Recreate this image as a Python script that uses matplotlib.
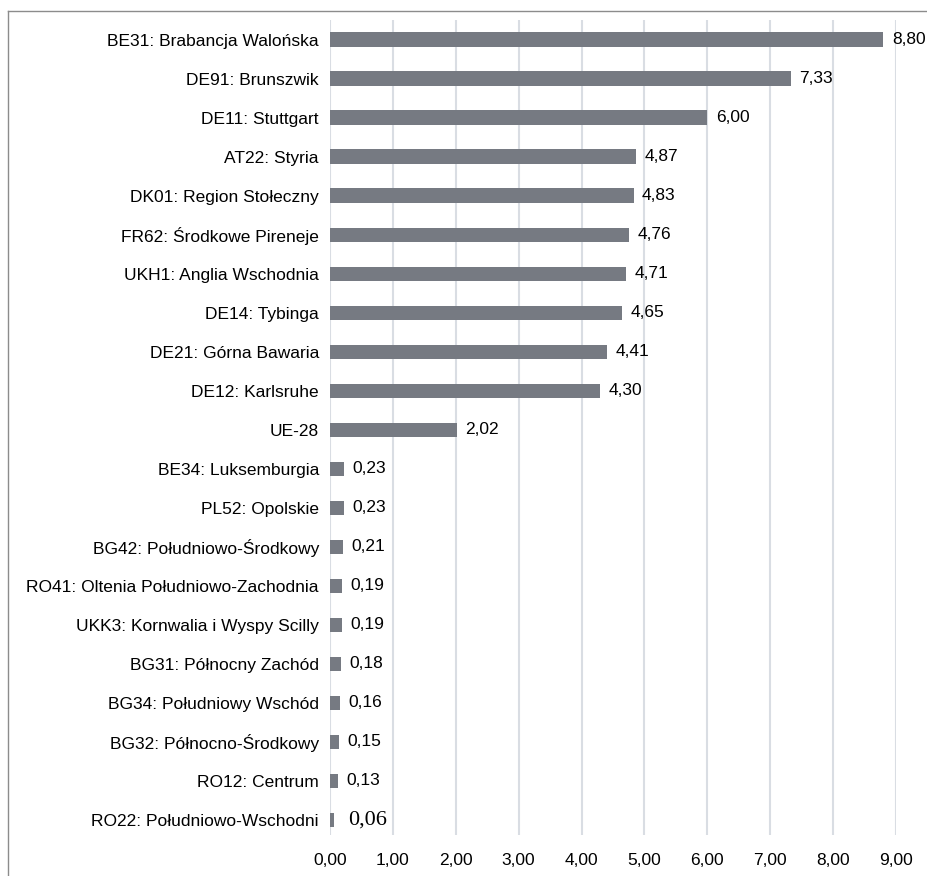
import matplotlib.pyplot as plt
from matplotlib.lines import Line2D

regions = [
    "BE31: Brabancja Walońska",
    "DE91: Brunszwik",
    "DE11: Stuttgart",
    "AT22: Styria",
    "DK01: Region Stołeczny",
    "FR62: Środkowe Pireneje",
    "UKH1: Anglia Wschodnia",
    "DE14: Tybinga",
    "DE21: Górna Bawaria",
    "DE12: Karlsruhe",
    "UE-28",
    "BE34: Luksemburgia",
    "PL52: Opolskie",
    "BG42: Południowo-Środkowy",
    "RO41: Oltenia Południowo-Zachodnia",
    "UKK3: Kornwalia i Wyspy Scilly",
    "BG31: Północny Zachód",
    "BG34: Południowy Wschód",
    "BG32: Północno-Środkowy",
    "RO12: Centrum",
    "RO22: Południowo-Wschodni",
]
values = [8.80, 7.33, 6.00, 4.87, 4.83, 4.76, 4.71, 4.65, 4.41, 4.30, 2.02,
          0.23, 0.23, 0.21, 0.19, 0.19, 0.18, 0.16, 0.15, 0.13, 0.06]
x_ticks = [0, 1, 2, 3, 4, 5, 6, 7, 8, 9]

plt.rcParams['font.family'] = ['Liberation Sans Narrow', 'Liberation Sans', 'DejaVu Sans']

BAR = "#767a82"
GRID = "#d9dde3"


def fmt(v):
    return f"{v:.2f}".replace(".", ",")


fig = plt.figure(figsize=(9.28, 8.76), dpi=100)
# plot area: x 330..896 px, y 20..835 px
ax = fig.add_axes([330 / 928, 41 / 876, (896 - 330) / 928, 815 / 876])

pos = list(range(len(values)))
ax.barh(pos, values, height=0.38, color=BAR, zorder=2)
ax.set_ylim(len(values) - 1 + 0.385, -0.51)
ax.set_xlim(0, 9)

ax.set_yticks(pos)
ax.set_yticklabels(regions, fontsize=12.5)
ax.set_xticks(x_ticks)
ax.set_xticklabels([fmt(t) for t in x_ticks], fontsize=12.5)
ax.tick_params(axis="y", length=0, pad=8)
ax.tick_params(axis="x", length=0, pad=13)
ax.grid(axis="x", color=GRID, linewidth=1.5, zorder=0)
for s in ax.spines.values():
    s.set_visible(False)

for p, v in zip(pos, values):
    if p == len(values) - 1:
        ax.annotate(fmt(v), (v, p), xytext=(10, 0), textcoords="offset points",
                    va="center", ha="left", fontsize=16,
                    family=["Liberation Serif", "DejaVu Serif"], clip_on=False)
    else:
        ax.annotate(fmt(v), (v, p), xytext=(6, 0), textcoords="offset points",
                    va="center", ha="left", fontsize=12.5, clip_on=False)

# outer frame (top and left edges visible in the crop)
fig.add_artist(Line2D([8 / 928, 8 / 928], [0, 1 - 11 / 876], transform=fig.transFigure,
                      color="#8c8c8c", linewidth=1))
fig.add_artist(Line2D([8 / 928, 1], [1 - 11 / 876, 1 - 11 / 876], transform=fig.transFigure,
                      color="#8c8c8c", linewidth=1))

fig.savefig("out.png", dpi=100, facecolor="white")
